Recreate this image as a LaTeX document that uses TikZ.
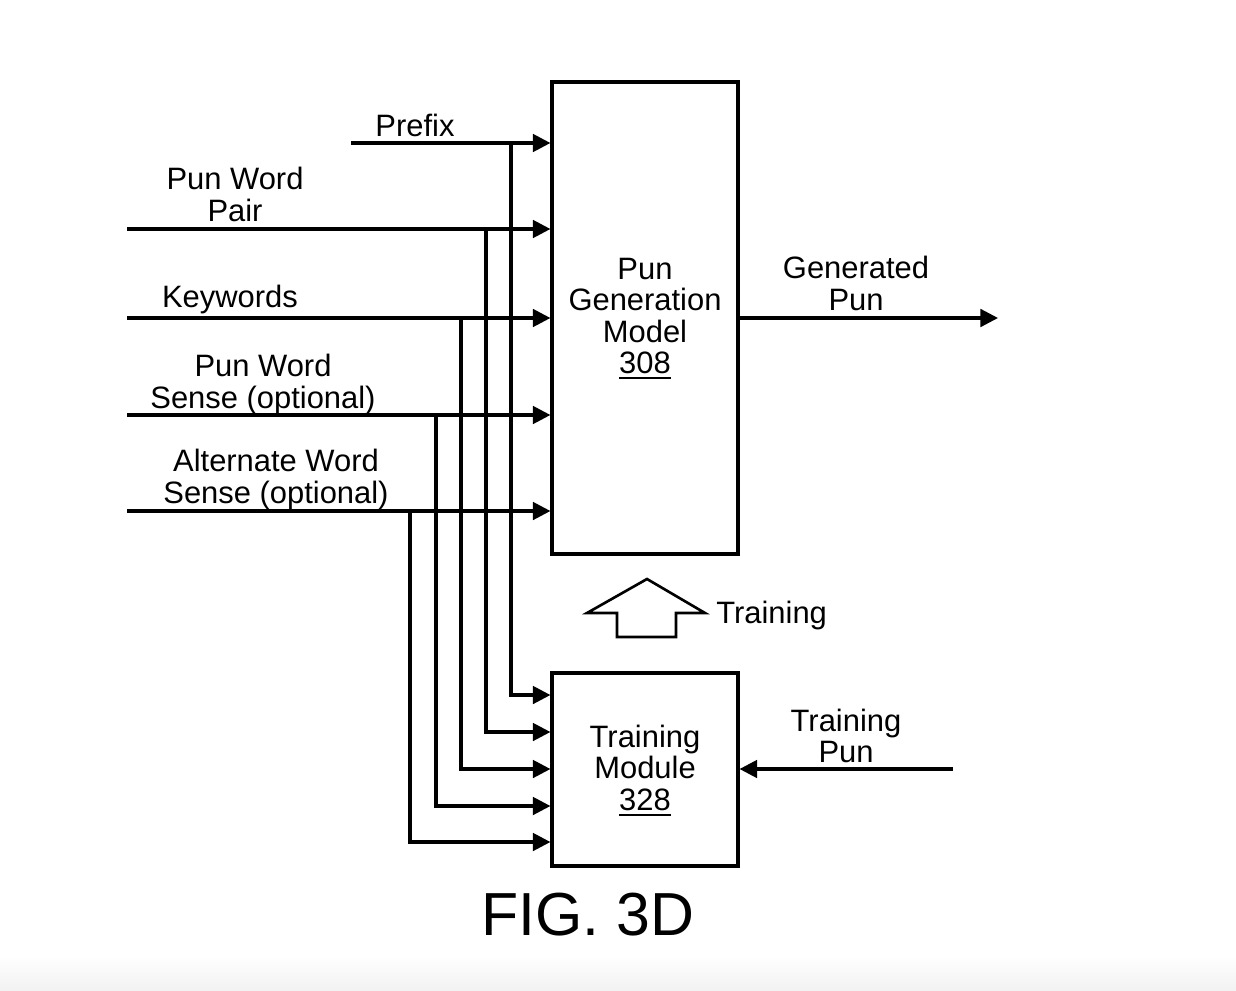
\documentclass[tikz,border=0pt]{standalone}
\usepackage{fontspec}
\setmainfont{Liberation Sans}
\usetikzlibrary{arrows.meta}
\newcommand\myul[1]{\setbox0\hbox{#1}\rlap{\rule[-3.2pt]{\wd0}{1pt}}\box0}
\begin{document}
\begin{tikzpicture}[x=0.02cm,y=-0.02cm,
  wire/.style={line width=1.8pt},
  arr/.style={wire,-{Triangle[length=10pt,width=10pt]}},
  box/.style={draw,line width=1.8pt,minimum width=3.72cm,inner sep=0pt},
  lbl/.style={font=\fontsize{17.6}{17.9}\selectfont,align=center,inner sep=0pt},
  fig/.style={font=\fontsize{34.6}{36}\selectfont,inner sep=0pt}]
\useasboundingbox (0,0) rectangle (1236,990);
\fill[white] (0,0) rectangle (1236,990);
\shade[top color=white,bottom color=black!5] (0,955) rectangle (1236,990);

% boxes
\node[box,minimum height=9.44cm] (pgm) at (645,318) {};
\node[box,minimum height=3.86cm] (tm) at (645,769.5) {};
\node[lbl] (pgmt) at (645,318.5) {Pun\\Generation\\Model\\\myul{308}};
\node[lbl] (tmt) at (645,770.5) {Training\\Module\\\myul{328}};

% input start points
\coordinate (sPre) at (351,143);
\coordinate (sPair) at (127,229);
\coordinate (sKey) at (127,318);
\coordinate (sPws) at (127,415);
\coordinate (sAws) at (127,511);
% branch points
\coordinate (bPre) at (511,143);
\coordinate (bPair) at (486,229);
\coordinate (bKey) at (461,318);
\coordinate (bPws) at (436,415);
\coordinate (bAws) at (410,511);
% training module entry heights
\coordinate (tPre) at (552,695);
\coordinate (tPair) at (552,732);
\coordinate (tKey) at (552,769);
\coordinate (tPws) at (552,806);
\coordinate (tAws) at (552,842);

\draw[arr] (sPre) -- (sPre -| pgm.west);
\draw[arr] (sPair) -- (sPair -| pgm.west);
\draw[arr] (sKey) -- (sKey -| pgm.west);
\draw[arr] (sPws) -- (sPws -| pgm.west);
\draw[arr] (sAws) -- (sAws -| pgm.west);

\draw[arr] (bPre) |- (tPre -| tm.west);
\draw[arr] (bPair) |- (tPair -| tm.west);
\draw[arr] (bKey) |- (tKey -| tm.west);
\draw[arr] (bPws) |- (tPws -| tm.west);
\draw[arr] (bAws) |- (tAws -| tm.west);

% output
\coordinate (outE) at (998,318);
\draw[arr] (outE -| pgm.east) -- (outE);
\coordinate (tpS) at (953,769);
\draw[arr] (tpS) -- (tpS -| tm.east);

% hollow training arrow
\draw[line width=1.5pt,line join=miter] (647,579) -- (705,613) -- (676,613) -- (676,637) -- (617,637) -- (617,613) -- (587,613) -- cycle;

% labels
\node[lbl] (lPre) at (415,125) {Prefix};
\node[lbl] (lPair) at (235,194.5) {Pun Word\\Pair};
\node[lbl] (lKey) at (230,299.5) {Keywords};
\node[lbl] (lPws) at (263,384.5) {Pun Word\\Sense (optional)};
\node[lbl] (lAws) at (276,479.5) {Alternate Word\\Sense (optional)};
\node[lbl] (lGen) at (856,283.5) {Generated\\Pun};
\node[lbl,anchor=west] (lTr) at (716,615) {Training};
\node[lbl] (lTp) at (846,736) {Training\\Pun};
\node[fig] (lFig) at (588,915) {FIG. 3D};
\end{tikzpicture}
\end{document}
